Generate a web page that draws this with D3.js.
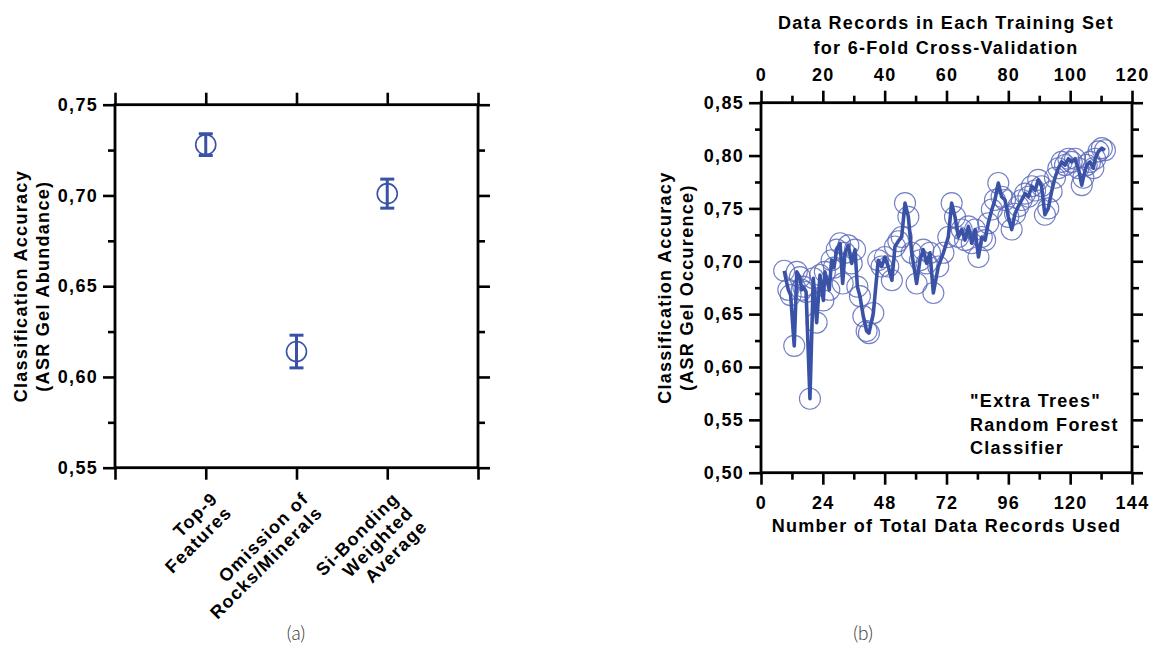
<!DOCTYPE html>
<html><head><meta charset="utf-8">
<script src="https://cdn.jsdelivr.net/npm/d3@7"></script>
<style>
body{margin:0;background:#fff;}
svg{display:block;}
text{font-family:"Liberation Sans",Arial,sans-serif;font-weight:bold;fill:#000;letter-spacing:1.3px;}
.cap{font-family:Lato,"Open Sans",sans-serif;font-weight:300;fill:#333;letter-spacing:0;}
</style></head>
<body>
<svg id="c" width="1151" height="646"></svg>
<script>
// ---------- data: panel (a)
const categories = [["Top-9","Features"],["Omission of","Rocks/Minerals"],["Si-Bonding","Weighted","Average"]];
const meanAcc = [0.728, 0.614, 0.701];
const errLow  = [0.722, 0.605, 0.693];
const errHigh = [0.734, 0.623, 0.709];
const yTicksA = [0.55,0.60,0.65,0.70,0.75];
// ---------- data: panel (b)
const totalRecords = [9.0,10.6,11.5,12.9,13.9,15.1,15.8,16.4,17.5,19.0,20.3,21.6,22.9,24.2,24.8,26.5,27.4,28.3,29.4,30.7,31.7,32.6,33.9,35.2,36.5,37.4,38.4,39.7,41.0,41.9,43.6,45.5,46.8,48.1,49.4,50.8,52.0,53.3,54.6,55.9,57.2,58.5,60.4,61.7,63.0,64.3,65.6,66.9,68.8,70.8,72.7,74.0,75.3,76.6,77.9,79.2,80.5,81.8,83.1,84.4,85.7,87.0,88.2,89.6,90.8,92.1,93.4,94.7,96.0,97.3,98.6,99.9,101.2,102.5,103.8,105.1,106.4,107.6,108.9,110.2,111.5,112.8,114.1,115.4,116.7,118.0,119.3,120.6,121.9,123.2,124.5,125.1,126.4,127.7,129.0,129.7,131.0,132.3,133.5];
const accuracy = [0.691,0.673,0.668,0.620,0.690,0.685,0.673,0.676,0.671,0.570,0.684,0.642,0.687,0.663,0.690,0.673,0.701,0.694,0.711,0.717,0.679,0.708,0.715,0.698,0.711,0.676,0.667,0.648,0.634,0.632,0.651,0.701,0.695,0.704,0.695,0.682,0.714,0.719,0.723,0.755,0.742,0.708,0.679,0.701,0.711,0.698,0.708,0.670,0.695,0.708,0.723,0.755,0.742,0.723,0.730,0.720,0.733,0.717,0.730,0.704,0.723,0.720,0.736,0.749,0.758,0.774,0.761,0.758,0.742,0.730,0.745,0.752,0.758,0.764,0.761,0.771,0.767,0.777,0.771,0.744,0.750,0.766,0.779,0.788,0.794,0.791,0.797,0.794,0.797,0.788,0.772,0.779,0.791,0.794,0.788,0.797,0.804,0.807,0.805];
const xTicksBottom = [0,24,48,72,96,120,144];
const xTicksTop = [0,20,40,60,80,100,120];
const yTicksB = [0.50,0.55,0.60,0.65,0.70,0.75,0.80,0.85];
const annotation = ["\"Extra Trees\"","Random Forest","Classifier"];

const BLUE = "#3a52a6";
const fmt = d3.formatLocale({decimal:",",thousands:".",grouping:[3],currency:["",""]}).format(".2f");
const svg = d3.select("#c");

function styleAxis(g){
  g.select(".domain").remove();
  g.selectAll("line").attr("stroke","#000").attr("stroke-width",2.6);
  g.selectAll("text").attr("font-size",18).attr("fill","#000");
}
function minors(major){
  const m=[];
  for(let i=0;i<major.length-1;i++) m.push((major[i]+major[i+1])/2);
  return m;
}

// ================= Panel (a)
{
  const x = d3.scaleLinear([0,4],[115,478]);
  const y = d3.scaleLinear([0.55,0.75],[467.7,104.7]);
  const g = svg.append("g");
  g.append("g").attr("transform",`translate(${x(0)},0)`).call(d3.axisLeft(y).tickValues(yTicksA).tickSize(12).tickSizeOuter(0).tickPadding(5).tickFormat(fmt)).call(styleAxis);
  g.append("g").attr("transform",`translate(${x(0)},0)`).call(d3.axisLeft(y).tickValues(minors(yTicksA)).tickSize(7).tickSizeOuter(0).tickFormat("")).call(styleAxis);
  g.append("g").attr("transform",`translate(${x(4)},0)`).call(d3.axisRight(y).tickValues(yTicksA).tickSize(12).tickSizeOuter(0).tickFormat("")).call(styleAxis);
  g.append("g").attr("transform",`translate(${x(4)},0)`).call(d3.axisRight(y).tickValues(minors(yTicksA)).tickSize(7).tickSizeOuter(0).tickFormat("")).call(styleAxis);
  g.append("g").attr("transform",`translate(0,${y(0.75)})`).call(d3.axisTop(x).tickValues([0,1,2,3,4]).tickSize(12).tickSizeOuter(0).tickFormat("")).call(styleAxis);
  g.append("g").attr("transform",`translate(0,${y(0.55)})`).call(d3.axisBottom(x).tickValues([0,1,2,3,4]).tickSize(12).tickSizeOuter(0).tickFormat("")).call(styleAxis);
  g.append("rect").attr("x",x(0)).attr("y",y(0.75)).attr("width",x(4)-x(0)).attr("height",y(0.55)-y(0.75))
    .attr("fill","none").attr("stroke","#000").attr("stroke-width",2.8);
  const cw=7;
  meanAcc.forEach((m,i)=>{
    const cx=x(i+1);
    g.append("line").attr("x1",cx).attr("x2",cx).attr("y1",y(errLow[i])).attr("y2",y(errHigh[i])).attr("stroke",BLUE).attr("stroke-width",3);
    [errLow[i],errHigh[i]].forEach(v=>g.append("line").attr("x1",cx-cw).attr("x2",cx+cw).attr("y1",y(v)).attr("y2",y(v)).attr("stroke",BLUE).attr("stroke-width",3));
    g.append("circle").attr("cx",cx).attr("cy",y(m)).attr("r",10).attr("fill","none").attr("stroke",BLUE).attr("stroke-width",1.6);
  });
  categories.forEach((lines,i)=>{
    const t=g.append("text").attr("font-size",18).attr("text-anchor","end")
      .attr("transform",`translate(${x(i+1)+4},${y(0.55)+23}) rotate(-45)`);
    lines.forEach((s,j)=>t.append("tspan").attr("x",0).attr("dy",j===0?"0.72em":"1.1em").text(s));
  });
  const yt=g.append("text").attr("font-size",18).attr("text-anchor","middle").attr("transform",`translate(27,${(y(0.55)+y(0.75))/2}) rotate(-90)`);
  yt.append("tspan").attr("x",0).attr("dy",0).text("Classification Accuracy");
  yt.append("tspan").attr("x",0).attr("dy","1.2em").text("(ASR Gel Abundance)");
  svg.append("text").attr("class","cap").attr("x",296).attr("y",640).attr("text-anchor","middle").attr("font-size",19).text("(a)");
}

// ================= Panel (b)
{
  const x = d3.scaleLinear([0,144],[761,1132]);
  const xt = d3.scaleLinear([0,120],[761,1132]);
  const y = d3.scaleLinear([0.50,0.85],[472.7,102.7]);
  const g = svg.append("g");
  g.append("g").attr("transform",`translate(${x(0)},0)`).call(d3.axisLeft(y).tickValues(yTicksB).tickSize(12).tickSizeOuter(0).tickPadding(5).tickFormat(fmt)).call(styleAxis);
  g.append("g").attr("transform",`translate(${x(0)},0)`).call(d3.axisLeft(y).tickValues(minors(yTicksB)).tickSize(6).tickSizeOuter(0).tickFormat("")).call(styleAxis);
  g.append("g").attr("transform",`translate(${x(144)},0)`).call(d3.axisRight(y).tickValues(yTicksB).tickSize(11).tickSizeOuter(0).tickFormat("")).call(styleAxis);
  g.append("g").attr("transform",`translate(${x(144)},0)`).call(d3.axisRight(y).tickValues(minors(yTicksB)).tickSize(7).tickSizeOuter(0).tickFormat("")).call(styleAxis);
  g.append("g").attr("transform",`translate(0,${y(0.5)})`).call(d3.axisBottom(x).tickValues(xTicksBottom).tickSize(12).tickSizeOuter(0).tickPadding(12).tickFormat(d3.format("d"))).call(styleAxis);
  g.append("g").attr("transform",`translate(0,${y(0.5)})`).call(d3.axisBottom(x).tickValues(minors(xTicksBottom)).tickSize(7).tickSizeOuter(0).tickFormat("")).call(styleAxis);
  g.append("g").attr("transform",`translate(0,${y(0.85)})`).call(d3.axisTop(xt).tickValues(xTicksTop).tickSize(12).tickSizeOuter(0).tickPadding(10).tickFormat(d3.format("d"))).call(styleAxis);
  g.append("g").attr("transform",`translate(0,${y(0.85)})`).call(d3.axisTop(xt).tickValues(minors(xTicksTop)).tickSize(7).tickSizeOuter(0).tickFormat("")).call(styleAxis);
  g.append("rect").attr("x",x(0)).attr("y",y(0.85)).attr("width",x(144)-x(0)).attr("height",y(0.5)-y(0.85))
    .attr("fill","none").attr("stroke","#000").attr("stroke-width",2.8);
  const pts = totalRecords.map((t,i)=>[t,accuracy[i]]);
  g.append("g").selectAll("circle").data(pts).join("circle")
    .attr("cx",d=>x(d[0])).attr("cy",d=>y(d[1])).attr("r",10.5)
    .attr("fill","none").attr("stroke","#5a68bb").attr("stroke-opacity",0.85).attr("stroke-width",1.1);
  g.append("path").datum(pts).attr("d",d3.line().x(d=>x(d[0])).y(d=>y(d[1])))
    .attr("fill","none").attr("stroke",BLUE).attr("stroke-width",3.6).attr("stroke-linejoin","round");
  const at=g.append("text").attr("font-size",18);
  annotation.forEach((s,j)=>at.append("tspan").attr("x",970).attr("y",407+j*23.5).text(s));
  g.append("text").attr("font-size",18).attr("text-anchor","middle").attr("x",(x(0)+x(144))/2).attr("y",532).text("Number of Total Data Records Used");
  const tt=g.append("text").attr("font-size",18).attr("text-anchor","middle");
  tt.append("tspan").attr("x",946).attr("y",29).text("Data Records in Each Training Set");
  tt.append("tspan").attr("x",946).attr("y",54).text("for 6-Fold Cross-Validation");
  const yt=g.append("text").attr("font-size",18).attr("text-anchor","middle").attr("transform",`translate(671,${(y(0.5)+y(0.85))/2}) rotate(-90)`);
  yt.append("tspan").attr("x",0).attr("dy",0).text("Classification Accuracy");
  yt.append("tspan").attr("x",0).attr("dy","1.2em").text("(ASR Gel Occurence)");
  svg.append("text").attr("class","cap").attr("x",863).attr("y",640).attr("text-anchor","middle").attr("font-size",19).text("(b)");
}
</script>
</body></html>
